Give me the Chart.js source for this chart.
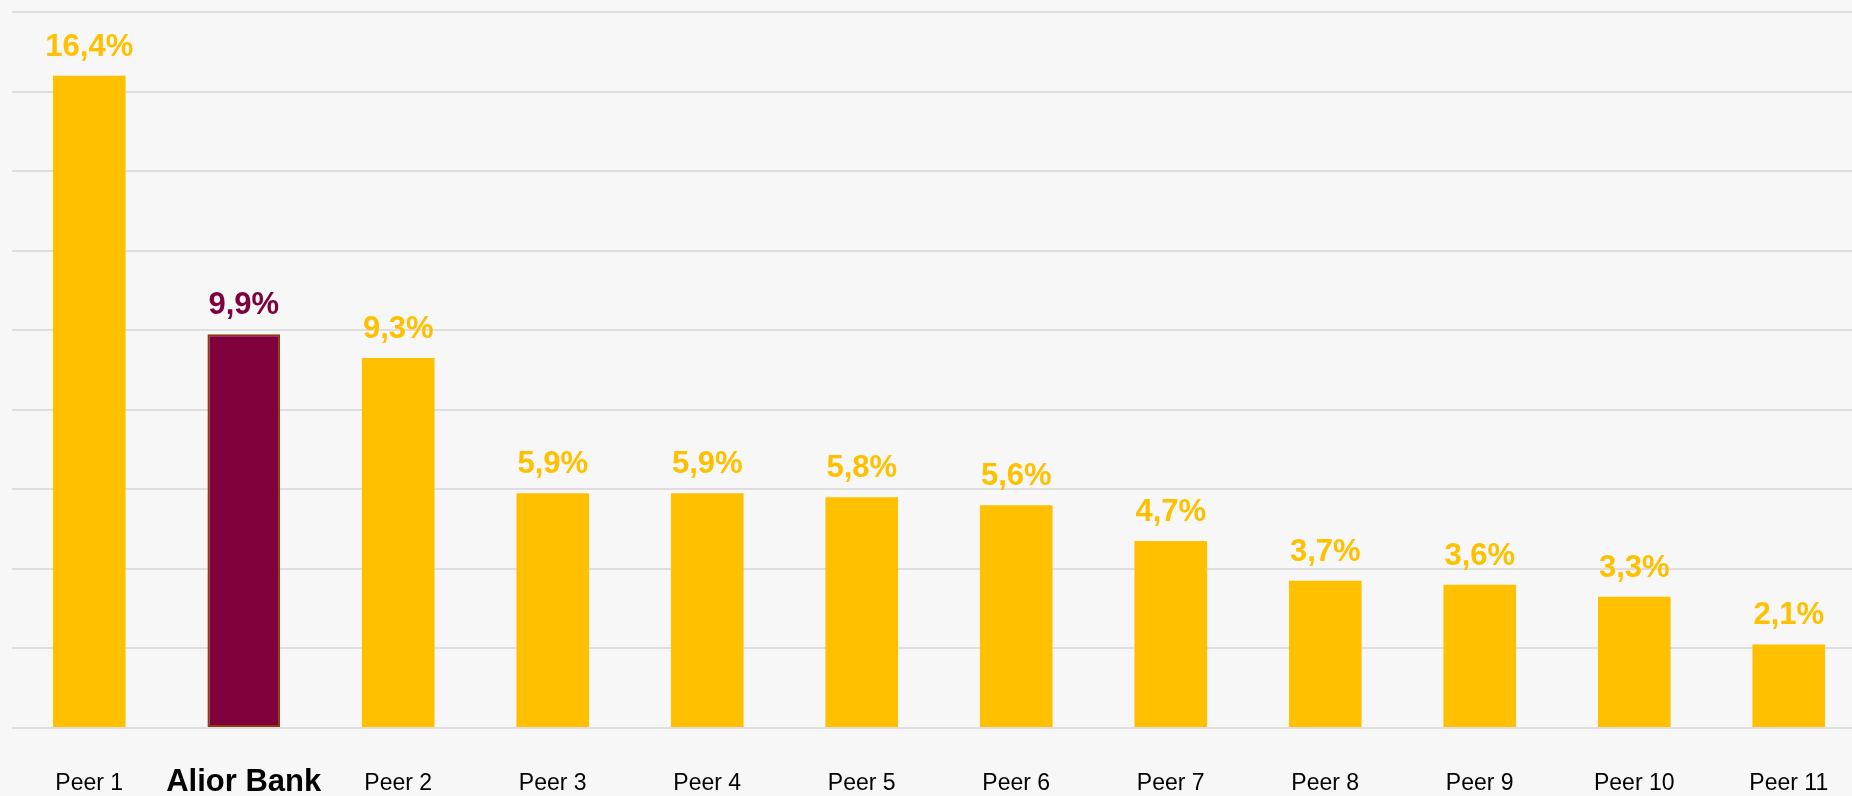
<!DOCTYPE html>
<html>
<head>
<meta charset="utf-8">
<script src="https://cdn.jsdelivr.net/npm/chart.js@4/dist/chart.umd.min.js"></script>
<style>
    html, body { margin: 0; padding: 0; overflow: hidden; background: #f7f7f7; }
    #wrap { position: relative; width: 1870px; height: 796px; }
</style>
</head>
<body>
<div id="wrap"><canvas id="barChart"></canvas></div>
<script>
// --- data ---
const categories = ['Peer 1', 'Alior Bank', 'Peer 2', 'Peer 3', 'Peer 4', 'Peer 5',
    'Peer 6', 'Peer 7', 'Peer 8', 'Peer 9', 'Peer 10', 'Peer 11'];
const values = [16.4, 9.9, 9.3, 5.9, 5.9, 5.8, 5.6, 4.7, 3.7, 3.6, 3.3, 2.1];
const highlightIndex = 1; // Alior Bank

// colours
const colors = {
    gold: '#FFC000',
    alior: '#80003C',
    aliorBorder: '#8B3A12',
    grid: '#dedede',
    text: '#000000'
};

const fontFamily = "'Liberation Sans', Arial, sans-serif";

// draws "16,4%" style labels above bars
const valueLabels = {
    id: 'valueLabels',
    afterDatasetsDraw(chart) {
        const ctx = chart.ctx;
        const meta = chart.getDatasetMeta(0);
        ctx.save();
        ctx.font = 'bold 31px ' + fontFamily;
        ctx.textAlign = 'center';
        ctx.textBaseline = 'alphabetic';
        meta.data.forEach((bar, i) => {
            ctx.fillStyle = i === highlightIndex ? colors.alior : colors.gold;
            const txt = values[i].toFixed(1).replace('.', ',') + '%';
            ctx.fillText(txt, bar.x, bar.y - 20);
        });
        ctx.restore();
    }
};

new Chart(document.getElementById('barChart').getContext('2d'), {
    type: 'bar',
    data: {
        labels: categories,
        datasets: [{
            data: values,
            backgroundColor: values.map((v, i) => i === highlightIndex ? colors.alior : colors.gold),
            borderColor: values.map((v, i) => i === highlightIndex ? colors.aliorBorder : colors.gold),
            borderWidth: values.map((v, i) => i === highlightIndex ? 2 : 0),
            borderSkipped: false,
            barPercentage: 0.47,
            categoryPercentage: 1
        }]
    },
    options: {
        responsive: true,
        maintainAspectRatio: false,
        animation: false,
        layout: { padding: { left: 12, right: 4, top: 12, bottom: 0 } },
        scales: {
            x: {
                grid: { display: false, drawTicks: false },
                border: { display: false },
                afterFit: (scale) => { scale.height = 68; },
                ticks: {
                    padding: 36,
                    maxRotation: 0,
                    autoSkip: false,
                    color: colors.text,
                    font: (c) => c.index === highlightIndex
                        ? { family: fontFamily, size: 31, weight: 'bold', lineHeight: '36px' }
                        : { family: fontFamily, size: 23, lineHeight: '40px' }
                }
            },
            y: {
                min: 0,
                max: 18,
                ticks: { display: false, stepSize: 2 },
                grid: { color: colors.grid, lineWidth: 2, drawTicks: false },
                border: { display: false }
            }
        },
        plugins: {
            legend: { display: false },
            tooltip: { enabled: false }
        }
    },
    plugins: [valueLabels]
});
</script>
</body>
</html>
